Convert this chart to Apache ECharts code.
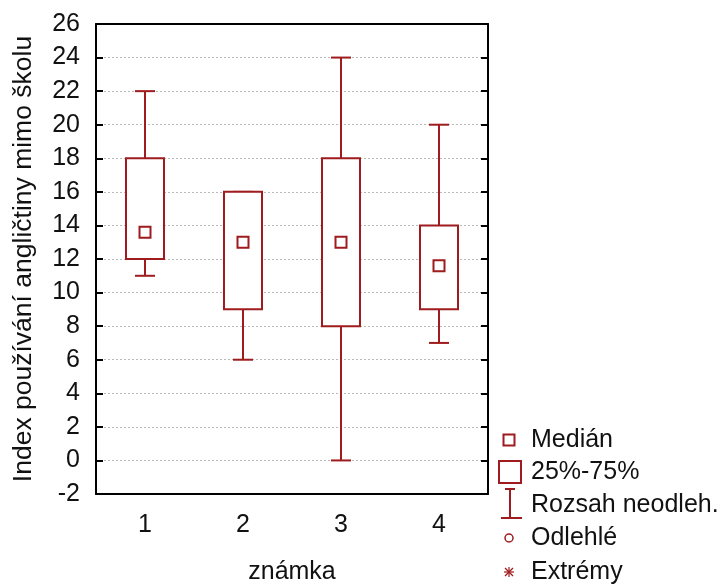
<!DOCTYPE html>
<html>
<head>
<meta charset="utf-8">
<script src="https://cdn.jsdelivr.net/npm/echarts@6/dist/echarts.min.js"></script>
<style>
  html, body { margin: 0; padding: 0; background: #fff; }
  #main { width: 725px; height: 585px; }
</style>
</head>
<body>
<div id="main"></div>
<script>
// data
var categories = ['1', '2', '3', '4'];
var whiskerLow = [11, 6, 0, 7];
var q1 = [12, 9, 8, 9];
var median = [13.6, 13, 13, 11.6];
var q3 = [18, 16, 18, 14];
var whiskerHigh = [22, 16, 24, 20];

var legendLabels = ['Medián', '25%-75%', 'Rozsah neodleh.', 'Odlehlé', 'Extrémy'];

var RED = '#9e1b1e';
var FONT = '"Liberation Sans", Arial, sans-serif';

var chart = echarts.init(document.getElementById('main'));

var boxData = categories.map(function (c, i) {
  return [i, whiskerLow[i], q1[i], median[i], q3[i], whiskerHigh[i]];
});

function renderBox(params, api) {
  var x = api.value(0);
  var pLow = api.coord([x, api.value(1)]);
  var pQ1 = api.coord([x, api.value(2)]);
  var pMed = api.coord([x, api.value(3)]);
  var pQ3 = api.coord([x, api.value(4)]);
  var pHigh = api.coord([x, api.value(5)]);
  var cx = Math.round(pMed[0]);
  var boxW = 38, capW = 20, medS = 11;
  var st = { stroke: RED, lineWidth: 2, fill: null };
  return {
    type: 'group',
    children: [
      { type: 'line', shape: { x1: cx, y1: pHigh[1], x2: cx, y2: pQ3[1] }, style: st },
      { type: 'line', shape: { x1: cx, y1: pQ1[1], x2: cx, y2: pLow[1] }, style: st },
      { type: 'line', shape: { x1: cx - capW / 2, y1: pHigh[1], x2: cx + capW / 2, y2: pHigh[1] }, style: st },
      { type: 'line', shape: { x1: cx - capW / 2, y1: pLow[1], x2: cx + capW / 2, y2: pLow[1] }, style: st },
      { type: 'rect', shape: { x: cx - boxW / 2, y: pQ3[1], width: boxW, height: pQ1[1] - pQ3[1] }, style: { stroke: RED, lineWidth: 2, fill: '#fff' } },
      { type: 'rect', shape: { x: cx - medS / 2, y: pMed[1] - medS / 2, width: medS, height: medS }, style: st }
    ]
  };
}

// legend drawn as graphic (symbols differ in size)
var lx = 509, tx = 531;
var rowsY = [440, 472, 505, 538, 572];
var legendGraphics = [
  { type: 'rect', shape: { x: lx - 5.5, y: rowsY[0] - 5.5, width: 11, height: 11 }, style: { stroke: RED, lineWidth: 2, fill: null } },
  { type: 'rect', shape: { x: lx - 10, y: rowsY[1] - 11, width: 22, height: 22 }, style: { stroke: RED, lineWidth: 2, fill: null } },
  { type: 'line', shape: { x1: lx + 1, y1: rowsY[2] - 16, x2: lx + 1, y2: rowsY[2] + 13 }, style: { stroke: RED, lineWidth: 2 } },
  { type: 'line', shape: { x1: lx - 4, y1: rowsY[2] - 16, x2: lx + 6, y2: rowsY[2] - 16 }, style: { stroke: RED, lineWidth: 2 } },
  { type: 'line', shape: { x1: lx - 8, y1: rowsY[2] + 13, x2: lx + 13, y2: rowsY[2] + 13 }, style: { stroke: RED, lineWidth: 2 } },
  { type: 'circle', shape: { cx: lx, cy: rowsY[3], r: 4 }, style: { stroke: RED, lineWidth: 1.5, fill: null } },
  { type: 'line', shape: { x1: lx - 5, y1: rowsY[4], x2: lx + 5, y2: rowsY[4] }, style: { stroke: RED, lineWidth: 1.2 } },
  { type: 'line', shape: { x1: lx, y1: rowsY[4] - 5, x2: lx, y2: rowsY[4] + 5 }, style: { stroke: RED, lineWidth: 1.2 } },
  { type: 'line', shape: { x1: lx - 4, y1: rowsY[4] - 4, x2: lx + 4, y2: rowsY[4] + 4 }, style: { stroke: RED, lineWidth: 1.2 } },
  { type: 'line', shape: { x1: lx - 4, y1: rowsY[4] + 4, x2: lx + 4, y2: rowsY[4] - 4 }, style: { stroke: RED, lineWidth: 1.2 } }
];
legendLabels.forEach(function (t, i) {
  legendGraphics.push({
    type: 'text', x: tx, y: rowsY[i],
    style: { text: t, font: '25px ' + FONT, fill: '#111', verticalAlign: 'middle', align: 'left' }
  });
});

var axisLabelStyle = { color: '#111', fontSize: 25, fontFamily: FONT };

var option = {
  animation: false,
  backgroundColor: '#fff',
  grid: { left: 96, top: 24, right: 237, bottom: 91, outerBoundsMode: 'none', containLabel: false },
  xAxis: [{
    type: 'category',
    data: categories,
    boundaryGap: true,
    position: 'bottom',
    name: 'známka',
    nameLocation: 'middle',
    nameGap: 66,
    nameTextStyle: axisLabelStyle,
    axisLine: { onZero: false, lineStyle: { color: '#000', width: 2 } },
    axisTick: { inside: true, alignWithLabel: true, length: 7, lineStyle: { color: '#000', width: 2 } },
    axisLabel: Object.assign({ margin: 19 }, axisLabelStyle),
    splitLine: { show: false }
  }, {
    type: 'category',
    data: categories,
    boundaryGap: true,
    position: 'top',
    axisLine: { onZero: false, lineStyle: { color: '#000', width: 2 } },
    axisTick: { inside: true, alignWithLabel: true, length: 7, lineStyle: { color: '#000', width: 2 } },
    axisLabel: { show: false }
  }],
  yAxis: [{
    type: 'value',
    min: -2, max: 26, interval: 2,
    position: 'left',
    name: 'Index používání angličtiny mimo školu',
    nameLocation: 'middle',
    nameGap: 59,
    nameTextStyle: { color: '#111', fontSize: 26.5, fontFamily: FONT },
    axisLine: { show: true, onZero: false, lineStyle: { color: '#000', width: 2 } },
    axisTick: { show: true, inside: true, length: 7, lineStyle: { color: '#000', width: 2 } },
    axisLabel: Object.assign({ margin: 16 }, axisLabelStyle),
    splitLine: { show: true, lineStyle: { color: '#b8b8b8', type: [2, 2], width: 1 } }
  }, {
    type: 'value',
    min: -2, max: 26, interval: 2,
    position: 'right',
    axisLine: { show: true, onZero: false, lineStyle: { color: '#000', width: 2 } },
    axisTick: { show: true, inside: true, length: 7, lineStyle: { color: '#000', width: 2 } },
    axisLabel: { show: false },
    splitLine: { show: false }
  }],
  series: [{
    type: 'custom',
    renderItem: renderBox,
    encode: { x: 0, y: [1, 2, 3, 4, 5] },
    data: boxData,
    z: 5
  }],
  graphic: legendGraphics
};

chart.setOption(option);
</script>
</body>
</html>
